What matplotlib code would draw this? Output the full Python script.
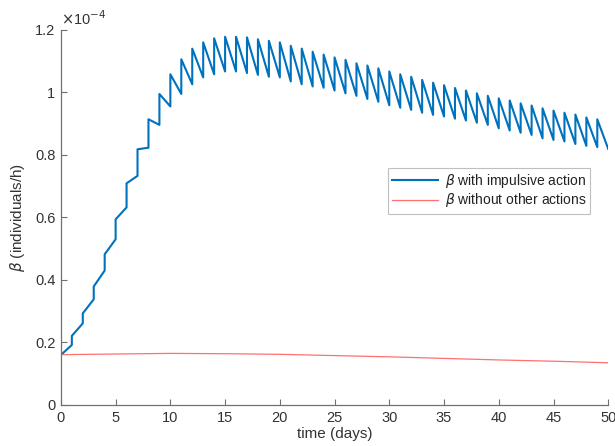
import matplotlib
matplotlib.use("Agg")
import matplotlib.pyplot as plt
import numpy as np

plt.rcParams["font.family"] = ["Liberation Sans", "DejaVu Sans"]
plt.rcParams["mathtext.fontset"] = "dejavusans"

# beta in units of 1e-4 individuals/h, sampled at each daily impulse
days = np.arange(0, 51)
# value just before the impulse at day d (day 0 = initial value, day 50 = end)
before = [0.160, 0.192, 0.261, 0.338, 0.430, 0.530, 0.632, 0.733, 0.823, 0.896,
          0.955, 0.995, 1.026, 1.048, 1.058, 1.067, 1.067, 1.062, 1.056, 1.050,
          1.048, 1.035, 1.026, 1.019, 1.015, 1.006, 0.997, 0.989, 0.979, 0.970,
          0.959, 0.951, 0.944, 0.935, 0.928, 0.923, 0.916, 0.910, 0.903, 0.896,
          0.885, 0.878, 0.871, 0.864, 0.853, 0.848, 0.843, 0.835, 0.829, 0.825,
          0.819]
# value just after the impulse at day d
after = [0.160, 0.221, 0.293, 0.379, 0.482, 0.594, 0.709, 0.818, 0.914, 0.995,
         1.058, 1.106, 1.140, 1.160, 1.173, 1.178, 1.178, 1.176, 1.170, 1.165,
         1.160, 1.149, 1.140, 1.130, 1.121, 1.112, 1.104, 1.093, 1.086, 1.077,
         1.067, 1.058, 1.050, 1.040, 1.031, 1.023, 1.014, 1.006, 0.997, 0.989,
         0.981, 0.974, 0.965, 0.958, 0.949, 0.942, 0.935, 0.929, 0.920, 0.914,
         0.819]

# beta without any action (same units)
t_free = [0, 5, 10, 15, 20, 25, 30, 35, 40, 45, 50]
beta_free = [0.161, 0.163, 0.165, 0.164, 0.162, 0.158, 0.154, 0.149, 0.144, 0.140, 0.135]

# interleave pre/post impulse values so jumps are vertical
t_imp = np.repeat(days, 2)
b_imp = np.empty(2 * len(days))
b_imp[0::2] = before
b_imp[1::2] = after

fig = plt.figure(figsize=(6.15, 4.46), dpi=100)
ax = fig.add_axes([0.099, 0.092, 0.890, 0.841])

ax.plot(t_imp, b_imp, color="#0072BD", lw=1.5, label=r"$\beta$ with impulsive action")
ax.plot(t_free, beta_free, color="#FF7070", lw=0.9, label=r"$\beta$ without other actions")

ax.set_xlim(0, 50)
ax.set_ylim(0, 1.2)
ax.set_xticks(np.arange(0, 51, 5))
ax.set_yticks([0, 0.2, 0.4, 0.6, 0.8, 1.0, 1.2])
ax.set_yticklabels(["0", "0.2", "0.4", "0.6", "0.8", "1", "1.2"])

for side in ("top", "right"):
    ax.spines[side].set_visible(False)
for side in ("left", "bottom"):
    ax.spines[side].set_color("#707070")
    ax.spines[side].set_linewidth(0.9)
ax.tick_params(direction="in", length=4, width=0.8, color="#707070",
               labelsize=10.5, labelcolor="#333333", pad=4)

ax.text(0.0, 1.005, r"$\times$10$^{-4}$", transform=ax.transAxes,
        fontsize=10.5, color="#333333", ha="left", va="bottom")

ax.set_xlabel("time (days)", fontsize=11, color="#333333", labelpad=2)
ax.set_ylabel(r"$\beta$ (individuals/h)", fontsize=11, color="#333333", labelpad=6)

leg = ax.legend(loc="upper right", bbox_to_anchor=(0.967, 0.632), fontsize=10,
                frameon=True, fancybox=False, edgecolor="#b0b0b0",
                handlelength=3.3, borderpad=0.3, labelspacing=0.1,
                handletextpad=0.5, borderaxespad=0)
leg.get_frame().set_linewidth(0.8)
for txt in leg.get_texts():
    txt.set_color("#222222")

fig.savefig("out.png", dpi=100)
